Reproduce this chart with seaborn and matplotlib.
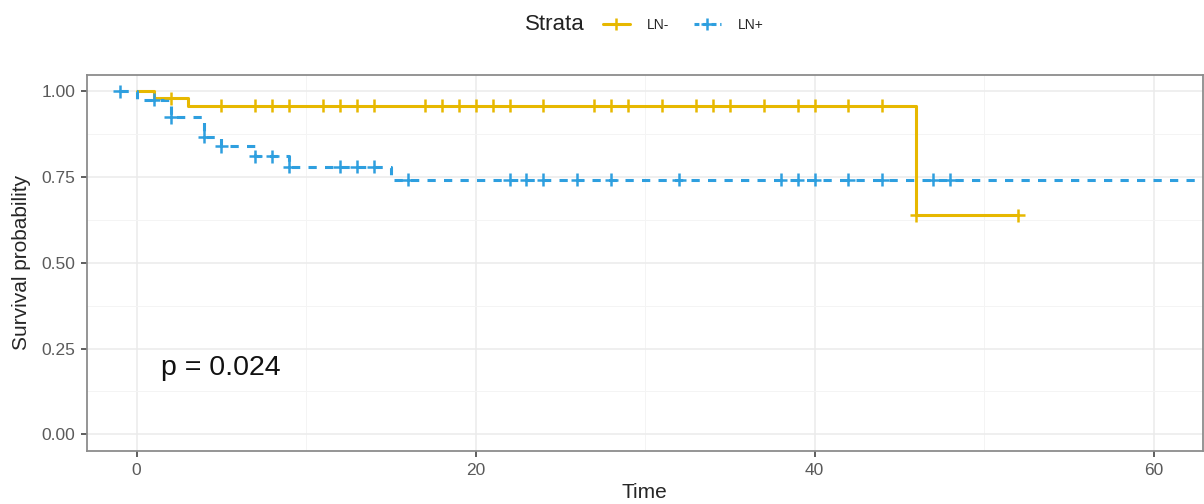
import numpy as np
import pandas as pd
import matplotlib
matplotlib.use("Agg")
import matplotlib.pyplot as plt
from matplotlib.lines import Line2D
import seaborn as sns

# Kaplan-Meier steps
strata = ["LN-", "LN+"]
ln_neg_time = [0, 1, 3, 46, 52]
ln_neg_surv = [1.0, 0.98, 0.959, 0.639, 0.639]
ln_pos_time = [-1, 0, 2, 4, 5, 7, 9, 15, 66]
ln_pos_surv = [1.0, 0.976, 0.925, 0.868, 0.840, 0.811, 0.781, 0.742, 0.742]

# censored observations (time only, survival taken from the curve)
ln_neg_censor = [2, 5, 7, 8, 9, 11, 12, 13, 14, 17, 18, 19, 20, 21, 22, 24, 27, 28,
                 29, 31, 33, 34, 35, 37, 39, 40, 42, 44, 46, 52]
ln_pos_censor = [-1, 1, 2, 4, 5, 7, 8, 9, 12, 13, 14, 16, 22, 23, 24, 26, 28, 32,
                 38, 39, 40, 42, 44, 47, 48]

p_text = "p = 0.024"
x_ticks = [0, 20, 40, 60]
y_ticks = [0.0, 0.25, 0.5, 0.75, 1.0]

colors = {"LN-": "#E7B800", "LN+": "#2E9FDF"}


def step_at(times, surv, t):
    idx = np.searchsorted(times, t, side="right") - 1
    return np.asarray(surv)[idx]


curves = pd.concat([
    pd.DataFrame({"time": ln_neg_time, "surv": ln_neg_surv, "Strata": "LN-"}),
    pd.DataFrame({"time": ln_pos_time, "surv": ln_pos_surv, "Strata": "LN+"}),
])
censors = pd.concat([
    pd.DataFrame({"time": ln_neg_censor,
                  "surv": step_at(ln_neg_time, ln_neg_surv, ln_neg_censor), "Strata": "LN-"}),
    pd.DataFrame({"time": ln_pos_censor,
                  "surv": step_at(ln_pos_time, ln_pos_surv, ln_pos_censor), "Strata": "LN+"}),
])

sns.set_style("white")
plt.rcParams["font.family"] = ["Liberation Sans", "DejaVu Sans"]

fig = plt.figure(figsize=(12.04, 5.04), dpi=100)
ax = fig.add_axes([87 / 1204, 1 - 450.7 / 504, (1202.7 - 87) / 1204, (450.7 - 75) / 504])

lw = 2.2
sns.lineplot(data=curves, x="time", y="surv", hue="Strata", style="Strata",
             palette=colors, dashes={"LN-": "", "LN+": (2.7, 2.7)},
             drawstyle="steps-post", estimator=None, sort=False, linewidth=lw,
             legend=False, ax=ax)
sns.scatterplot(data=censors, x="time", y="surv", hue="Strata", palette=colors,
                marker="+", s=90, linewidth=1.8, legend=False, ax=ax, zorder=3)

ax.set_xlim(-2.93, 62.9)
ax.set_ylim(-0.048, 1.048)
ax.set_xticks(x_ticks)
ax.set_yticks(y_ticks)
ax.set_yticklabels([f"{v:.2f}" for v in y_ticks])
ax.set_xticks([10, 30, 50], minor=True)
ax.set_yticks([0.125, 0.375, 0.625, 0.875], minor=True)
ax.grid(which="major", color="#EBEBEB", linewidth=1.1)
ax.grid(which="minor", color="#F4F4F4", linewidth=0.7)
ax.set_axisbelow(True)

for side in ax.spines.values():
    side.set_color("#8C8C8C")
    side.set_linewidth(1.3)

ax.tick_params(axis="both", which="major", length=4.3, width=1.1, color="#333333",
               labelcolor="#5A5A5A", labelsize=12.5, pad=4.3,
               bottom=True, left=True)
ax.tick_params(which="minor", length=0)

ax.set_xlabel("Time", fontsize=15, labelpad=4)
ax.set_ylabel("Survival probability", fontsize=15, labelpad=7)

ax.text(1.45, 0.193, p_text, fontsize=20.5, va="center", ha="left", color="#111111")

# legend across the top, ggplot style
fig.text(555 / 1204, 1 - 25 / 504, "Strata", fontsize=16, ha="center", va="center",
         color="#222222")
handles = [
    Line2D([], [], color=colors["LN-"], lw=lw, marker="+", ms=9, mew=1.8),
    Line2D([], [], color=colors["LN+"], lw=lw, ls=(0, (1.6, 1.2)), marker="+", ms=9, mew=1.8),
]
fig.legend(handles, strata, ncol=2, loc="center", bbox_to_anchor=(683 / 1204, 1 - 25 / 504),
           frameon=False, fontsize=10, handlelength=1.94, handletextpad=1.2,
           columnspacing=1.8, borderpad=0)

fig.savefig("out.png", dpi=100)
